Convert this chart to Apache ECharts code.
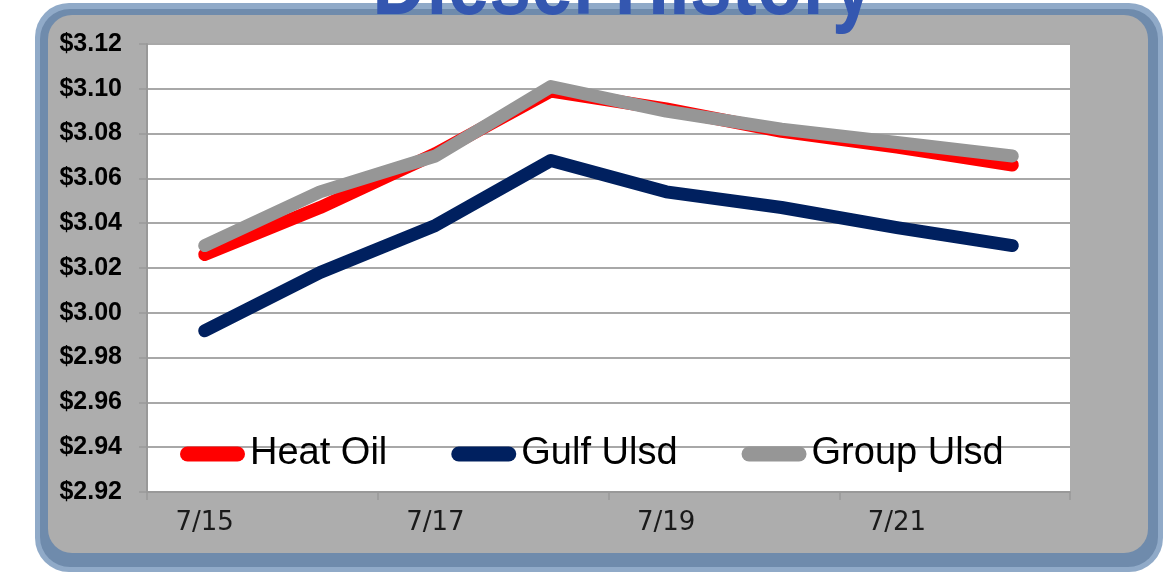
<!DOCTYPE html>
<html>
<head>
<meta charset="utf-8">
<title>Diesel History</title>
<script src="https://cdn.jsdelivr.net/npm/echarts@6/dist/echarts.min.js"></script>
<style>
    html, body { margin: 0; padding: 0; background: #fff; }
    #chart-content { width: 1169px; height: 572px; }
</style>
</head>
<body>
<div id="chart-content"></div>
<script>
var days = ['7/15', '7/16', '7/17', '7/18', '7/19', '7/20', '7/21', '7/22'];
var heatOil = [3.026, 3.047, 3.071, 3.099, 3.091, 3.081, 3.074, 3.066];
var gulfUlsd = [2.992, 3.018, 3.039, 3.068, 3.054, 3.047, 3.038, 3.030];
var groupUlsd = [3.030, 3.054, 3.070, 3.101, 3.090, 3.082, 3.076, 3.070];
var yTicks = {min: 2.92, max: 3.12, step: 0.02};

var myChart = echarts.init(document.getElementById('chart-content'));

var pill = 'path://M7.5,0 H57.5 A7.5,7.5 0 0 1 57.5,15 H7.5 A7.5,7.5 0 0 1 7.5,0 Z';

function line(name, data, color) {
    return {
        name: name,
        type: 'line',
        data: data,
        symbol: 'none',
        smooth: false,
        lineStyle: {width: 13, color: color, cap: 'round', join: 'round'},
        itemStyle: {color: color}
    };
}

myChart.setOption({
    animation: false,
    graphic: [
        // blue frame round the grey panel
        {type: 'rect', z: -10, shape: {x: 35, y: 3, width: 1128, height: 569, r: 34}, style: {fill: '#90aac8'}},
        {type: 'rect', z: -10, shape: {x: 40, y: 9, width: 1118, height: 558, r: 30}, style: {fill: '#6f8bac'}},
        {type: 'rect', z: -10, shape: {x: 48, y: 15, width: 1100, height: 538, r: 24}, style: {fill: '#adadad'}},
        {
            type: 'text', z: 100, x: 623, y: -12, scaleX: 0.8,
            style: {
                text: 'Diesel History',
                font: 'bold 94px "Liberation Sans", Arial, sans-serif',
                fill: '#3457b0',
                align: 'center',
                verticalAlign: 'middle',
                shadowColor: 'rgba(0,0,0,0.85)',
                shadowOffsetX: 3,
                shadowOffsetY: 3,
                shadowBlur: 3
            }
        }
    ],
    grid: {
        left: 147, right: 99, top: 44, bottom: 80,
        show: true, backgroundColor: '#fff', borderWidth: 0
    },
    legend: {
        left: 175, top: 430,
        icon: pill,
        itemWidth: 65, itemHeight: 15, itemGap: 64,
        textStyle: {fontFamily: '"Liberation Sans", Arial, sans-serif', fontSize: 38, color: '#000'},
        data: ['Heat Oil', 'Gulf Ulsd', 'Group Ulsd']
    },
    xAxis: {
        type: 'category',
        data: days,
        boundaryGap: true,
        axisLine: {lineStyle: {color: '#999', width: 2}},
        axisTick: {show: true, interval: 1, length: 8, lineStyle: {color: '#999', width: 1.5}},
        axisLabel: {interval: 1, margin: 18, fontFamily: '"DejaVu Sans", sans-serif', fontSize: 26, color: '#1a1a1a'},
        splitLine: {show: false}
    },
    yAxis: {
        type: 'value',
        min: yTicks.min, max: yTicks.max, interval: yTicks.step,
        axisLine: {show: true, lineStyle: {color: '#999', width: 2}},
        axisTick: {show: true, length: 8, lineStyle: {color: '#999', width: 1.5}},
        axisLabel: {
            margin: 25, fontFamily: '"Liberation Sans", Arial, sans-serif', fontWeight: 'bold', fontSize: 25, color: '#000',
            formatter: function (v) { return '$' + v.toFixed(2); }
        },
        splitLine: {lineStyle: {color: '#a8a8a8', width: 2}}
    },
    series: [
        line('Heat Oil', heatOil, '#ff0000'),
        line('Gulf Ulsd', gulfUlsd, '#00205f'),
        line('Group Ulsd', groupUlsd, '#969696')
    ]
});
</script>
</body>
</html>
